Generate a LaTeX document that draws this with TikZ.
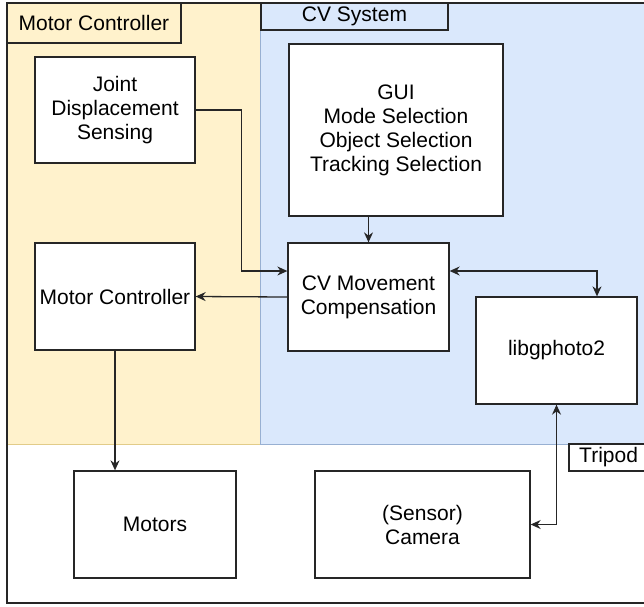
\documentclass[tikz,border=0pt]{standalone}
\usepackage{fontspec}
\setmainfont{Liberation Sans}
\usetikzlibrary{arrows.meta}

\definecolor{mcfill}{HTML}{FFF2CC}
\definecolor{mcline}{HTML}{D6B656}
\definecolor{cvfill}{HTML}{DAE8FC}
\definecolor{cvline}{HTML}{6C8EBF}

\tikzset{
  box/.style={draw=black!85, fill=white, line width=1.3pt, align=center,
              inner sep=2pt, font=\fontsize{21}{24}\selectfont},
  tag/.style={font=\fontsize{21}{24}\selectfont, inner sep=0pt},
  link/.style={draw=black!85, line width=1.3pt, -{Stealth[length=10pt,width=9pt]}},
  twoway/.style={draw=black!85, line width=1.3pt,
                 {Stealth[length=10pt,width=9pt]}-{Stealth[length=10pt,width=9pt]}},
}

\begin{document}
\begin{tikzpicture}[x=1pt, y=-1pt]
  \useasboundingbox (0,0) rectangle (644,606);

  % subsystem regions
  \fill[mcfill] (7,3) rectangle (260,444);
  \fill[cvfill] (260,3) rectangle (650,444);
  \draw[mcline!70, line width=0.8pt] (7,444) -- (260,444);
  \draw[cvline!70, line width=0.8pt] (260,3) -- (260,444) -- (650,444);

  % tripod frame
  \draw[black!85, line width=1.3pt] (7,3) rectangle (650,603);

  % region titles
  \draw[black!85, line width=1.3pt, fill=mcfill] (7,3) rectangle (181,43);
  \node[tag] (mctitle) at (94,23) {Motor Controller};
  \draw[black!85, line width=1.3pt, fill=cvfill] (261,3) rectangle (448,30);
  \node[tag] (cvtitle) at (354.5,16.5) {CV System};
  \draw[black!85, line width=1.3pt, fill=white] (569,444) rectangle (650,471);
  \node[tag, anchor=west] (tptitle) at (579,457.5) {Tripod};

  % blocks
  \node[box, minimum width=160pt, minimum height=106pt] (jds) at (115,110)
    {Joint\\Displacement\\Sensing};
  \node[box, minimum width=214pt, minimum height=172pt] (gui) at (396,130)
    {GUI\\Mode Selection\\Object Selection\\Tracking Selection};
  \node[box, minimum width=161pt, minimum height=108pt] (cvm) at (368.5,297)
    {CV Movement\\Compensation};
  \node[box, minimum width=161pt, minimum height=107pt] (lib) at (556.5,350.5)
    {libgphoto2};
  \node[box, minimum width=160pt, minimum height=107pt] (mc) at (115,296.5)
    {Motor Controller};
  \node[box, minimum width=162pt, minimum height=107pt] (mot) at (155,524.5)
    {Motors};
  \node[box, minimum width=215pt, minimum height=107pt] (cam) at (422.5,524.5)
    {(Sensor)\\Camera};

  % connections
  \draw[link] (jds.east) -- ++(46,0) |- ([yshift=26pt]cvm.west);
  \draw[link] (cvm.north |- gui.south) -- (cvm.north);
  \draw[link] (cvm.west) -- (mc.east);
  \draw[link] (mc.south) -- (mc.south |- mot.north);
  \draw[twoway] ([yshift=26pt]cvm.east) -| ([xshift=40.5pt]lib.north);
  \draw[twoway] (lib.south) |- (cam.east);
\end{tikzpicture}
\end{document}
